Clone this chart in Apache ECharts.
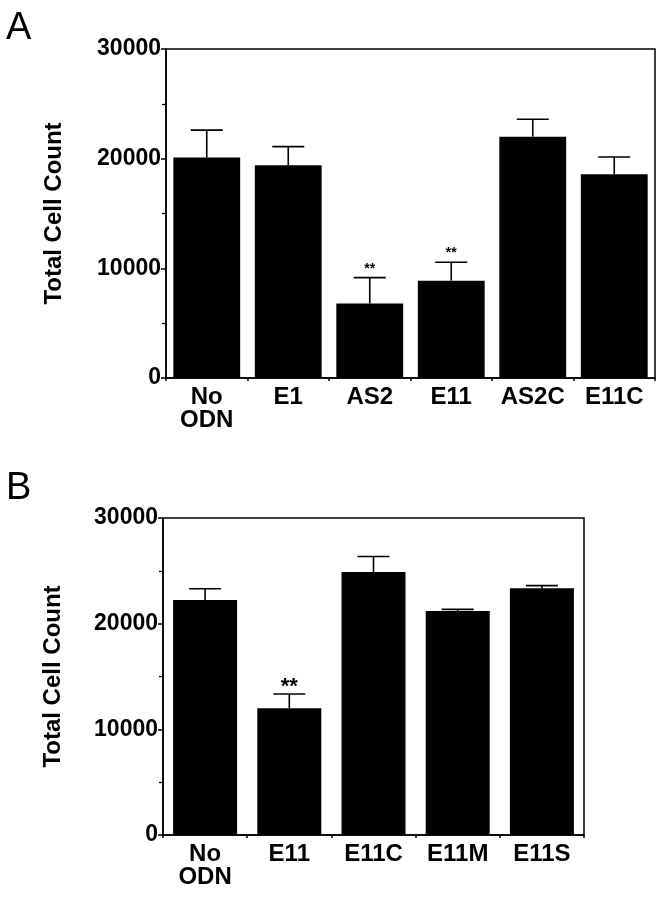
<!DOCTYPE html>
<html>
<head>
<meta charset="utf-8">
<script src="https://cdn.jsdelivr.net/npm/echarts@6/dist/echarts.min.js"></script>
<style>html,body{margin:0;padding:0;background:#fff}#c{width:667px;height:899px}</style>
</head>
<body>
<div id="c"></div>
<script>
// Panel A data
const catsA = ['No\nODN', 'E1', 'AS2', 'E11', 'AS2C', 'E11C'];
const meanA = [20100, 19400, 6800, 8870, 22000, 18570];
const errTopA = [22600, 21100, 9150, 10550, 23600, 20150];
const sigA = ['', '', '**', '**', '', ''];
// Panel B data
const catsB = ['No\nODN', 'E11', 'E11C', 'E11M', 'E11S'];
const meanB = [22250, 12000, 24900, 21200, 23360];
const errTopB = [23300, 13350, 26350, 21350, 23600];
const sigB = ['', '**', '', '', ''];
const yTicks = [0, 10000, 20000, 30000];

const FONT = '"Liberation Sans", Arial, Helvetica, sans-serif';
const chart = echarts.init(document.getElementById('c'), null, {renderer: 'canvas'});

function errRender(sig, starSize, starOff) {
  return function (params, api) {
    const i = api.value(0);
    const p0 = api.coord([i, api.value(1)]);
    const p1 = api.coord([i, api.value(2)]);
    const half = 16;
    const children = [
      {type: 'line', shape: {x1: p0[0], y1: p0[1], x2: p1[0], y2: p1[1]}, style: {stroke: '#000', lineWidth: 1.6}},
      {type: 'line', shape: {x1: p1[0] - half, y1: p1[1], x2: p1[0] + half, y2: p1[1]}, style: {stroke: '#000', lineWidth: 1.6}}
    ];
    const s = sig[params.dataIndex];
    if (s) {
      children.push({type: 'text', style: {text: s, x: p1[0], y: p1[1] - starOff, align: 'center', verticalAlign: 'middle', font: 'bold ' + starSize + 'px ' + FONT, fill: '#000'}});
    }
    return {type: 'group', children: children};
  };
}

function yAxis(gi, gap) {
  return {
    type: 'value', gridIndex: gi, min: 0, max: 30000, interval: 10000,
    axisLine: {show: true, lineStyle: {color: '#000', width: 1.5}},
    axisTick: {show: true, length: 5, lineStyle: {color: '#000', width: 1.5}},
    minorTick: {show: true, splitNumber: 2, length: 4, lineStyle: {color: '#000', width: 1.3}},
    splitLine: {show: false},
    axisLabel: {color: '#000', fontFamily: FONT, fontWeight: 'bold', fontSize: 23, margin: 5,
      formatter: v => yTicks.indexOf(v) >= 0 ? String(v) : ''},
    name: 'Total Cell Count', nameLocation: 'middle', nameGap: gap, nameRotate: 90,
    nameTextStyle: {color: '#000', fontFamily: FONT, fontWeight: 'bold', fontSize: 24}
  };
}
function xAxis(gi, cats) {
  return {
    type: 'category', gridIndex: gi, data: cats,
    axisLine: {show: true, lineStyle: {color: '#000', width: 1.5}},
    axisTick: {show: true, length: 3, lineStyle: {color: '#000', width: 1.5}},
    axisLabel: {color: '#000', fontFamily: FONT, fontWeight: 'bold', fontSize: 24, lineHeight: 23, margin: 8, interval: 0}
  };
}

chart.setOption({
  animation: false,
  backgroundColor: '#fff',
  title: [
    {text: 'A', left: 1, top: 5, textStyle: {fontFamily: FONT, fontWeight: 'normal', fontSize: 38, color: '#000'}},
    {text: 'B', left: 1, top: 465, textStyle: {fontFamily: FONT, fontWeight: 'normal', fontSize: 38, color: '#000'}}
  ],
  grid: [
    {left: 166, top: 49, width: 489, height: 329, show: true, borderColor: '#000', borderWidth: 1.5, backgroundColor: 'transparent'},
    {left: 163, top: 518, width: 421, height: 317, show: true, borderColor: '#000', borderWidth: 1.5, backgroundColor: 'transparent'}
  ],
  xAxis: [xAxis(0, catsA), xAxis(1, catsB)],
  yAxis: [yAxis(0, 100), yAxis(1, 98)],
  series: [
    {type: 'bar', xAxisIndex: 0, yAxisIndex: 0, data: meanA, barCategoryGap: '18%', itemStyle: {color: '#000'}, silent: true},
    {type: 'custom', xAxisIndex: 0, yAxisIndex: 0, z: 5, renderItem: errRender(sigA, 14, 9),
      data: meanA.map((m, i) => [i, m, errTopA[i]])},
    {type: 'bar', xAxisIndex: 1, yAxisIndex: 1, data: meanB, barCategoryGap: '24%', itemStyle: {color: '#000'}, silent: true},
    {type: 'custom', xAxisIndex: 1, yAxisIndex: 1, z: 5, renderItem: errRender(sigB, 22, 7),
      data: meanB.map((m, i) => [i, m, errTopB[i]])}
  ]
});
</script>
</body>
</html>
